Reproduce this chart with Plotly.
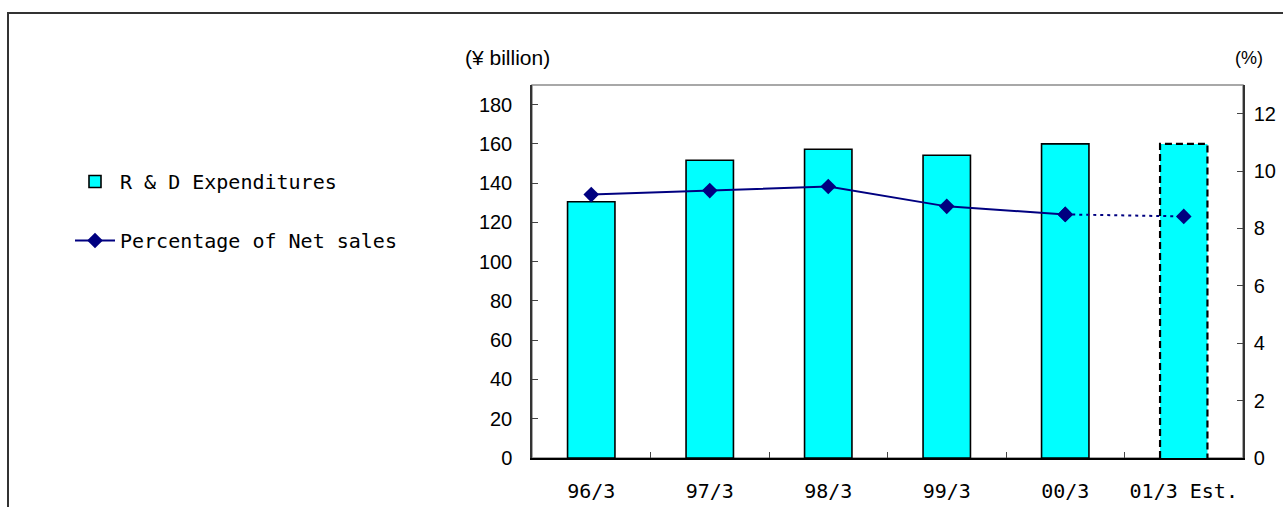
import plotly.graph_objects as go

categories = ["96/3", "97/3", "98/3", "99/3", "00/3", "01/3 Est."]
rd_expenditures = [130.5, 151.7, 157.3, 154.2, 160.0, 160.0]
pct_net_sales = [9.18, 9.32, 9.46, 8.77, 8.49, 8.42]
estimate_flags = [False, False, False, False, False, True]

BAR_WIDTH = 0.4
MONO = "DejaVu Sans Mono, monospace"
SANS = "Liberation Sans, Arial, sans-serif"

fig = go.Figure()

# Bars (estimate bar has no solid outline; dashed outline drawn separately)
fig.add_trace(go.Bar(
    x=categories, y=rd_expenditures, name="R & D Expenditures",
    width=BAR_WIDTH,
    marker=dict(color="#00FFFF",
                line=dict(color="black",
                          width=[0 if e else 1.6 for e in estimate_flags])),
    legendgroup="a",
))

# Dashed outline for the estimated bar (numeric overlay x axis)
for i, (v, e) in enumerate(zip(rd_expenditures, estimate_flags)):
    if e:
        h = BAR_WIDTH / 2
        fig.add_trace(go.Scatter(
            x=[i - h, i - h, i + h, i + h], y=[0, v, v, 0],
            xaxis="x2", yaxis="y", mode="lines",
            line=dict(color="black", width=2.2, dash="7px,4px"),
            showlegend=False, hoverinfo="skip",
        ))

# Percentage line: solid for actuals, dotted into the estimate
n_act = estimate_flags.index(True)
fig.add_trace(go.Scatter(
    x=categories[:n_act], y=pct_net_sales[:n_act], yaxis="y3",
    mode="lines+markers", name="Percentage of Net sales",
    line=dict(color="#000080", width=2),
    marker=dict(symbol="diamond", size=12, color="#000080"),
    legendgroup="b",
))
fig.add_trace(go.Scatter(
    x=categories[n_act - 1:], y=pct_net_sales[n_act - 1:], yaxis="y3",
    mode="lines+markers", showlegend=False,
    line=dict(color="#000080", width=2, dash="3px,4px"),
    marker=dict(symbol="diamond", size=12, color="#000080"),
))

L, R, T, B = 532, 40, 85, 49
W, H = 1283, 507
pw, ph = W - L - R, H - T - B

def px_x(px):
    return (px - L) / pw

def px_y(py):
    return (H - B - py) / ph

fig.update_layout(
    width=W, height=H,
    margin=dict(l=L, r=R, t=T, b=B, pad=0, autoexpand=False),
    paper_bgcolor="white", plot_bgcolor="white",
    bargap=0.6,
    showlegend=True,
    legend=dict(x=px_x(70), y=px_y(162), xanchor="left", yanchor="top",
                font=dict(family=MONO, size=20, color="black"),
                traceorder="grouped", tracegroupgap=30,
                bgcolor="rgba(0,0,0,0)", itemwidth=40),
    xaxis=dict(type="category", range=[-0.5, len(categories) - 0.5],
               showline=True, linecolor="black", linewidth=1.5,
               ticks="inside", ticklen=6, tickcolor="#444", tickson="boundaries",
               tickangle=0, automargin=False,
               tickfont=dict(family=MONO, size=20, color="black"),
               ticklabelstandoff=14, showgrid=False, zeroline=False,
               fixedrange=True),
    xaxis2=dict(overlaying="x", range=[-0.5, len(categories) - 0.5],
                visible=False, fixedrange=True),
    yaxis=dict(range=[0, 190], dtick=20, tick0=0, automargin=False,
               showline=True, linecolor="#333", linewidth=1.5,
               ticks="inside", ticklen=6, tickcolor="#444",
               tickfont=dict(family=SANS, size=20, color="black"),
               ticklabelstandoff=14, showgrid=False, zeroline=False),
    yaxis3=dict(overlaying="y", side="right", range=[0, 13], dtick=2, tick0=0,
                automargin=False,
                showline=True, linecolor="#333", linewidth=1.5,
                ticks="inside", ticklen=6, tickcolor="#444",
                tickfont=dict(family=SANS, size=20, color="black"),
                ticklabelstandoff=5, showgrid=False, zeroline=False),
    shapes=[
        dict(type="rect", xref="paper", yref="paper", x0=0, x1=1, y0=0, y1=1,
             line=dict(color="#8c8c8c", width=1.5), layer="below"),
        dict(type="rect", xref="paper", yref="paper",
             x0=px_x(8), x1=px_x(1400), y0=px_y(600), y1=px_y(13),
             line=dict(color="#333", width=2), layer="below"),
    ],
    annotations=[
        dict(text="(¥ billion)", xref="paper", yref="paper",
             x=px_x(507), y=px_y(58), xanchor="center", yanchor="middle",
             showarrow=False,
             font=dict(family=SANS, size=21, color="black")),
        dict(text="(%)", xref="paper", yref="paper",
             x=px_x(1249), y=px_y(58), xanchor="center", yanchor="middle",
             showarrow=False,
             font=dict(family=SANS, size=18, color="black")),
    ],
)

fig.write_html(
    "out.html",
    config={"displayModeBar": False},
    post_script="document.body.style.margin='0';document.body.style.overflow='hidden';",
)
